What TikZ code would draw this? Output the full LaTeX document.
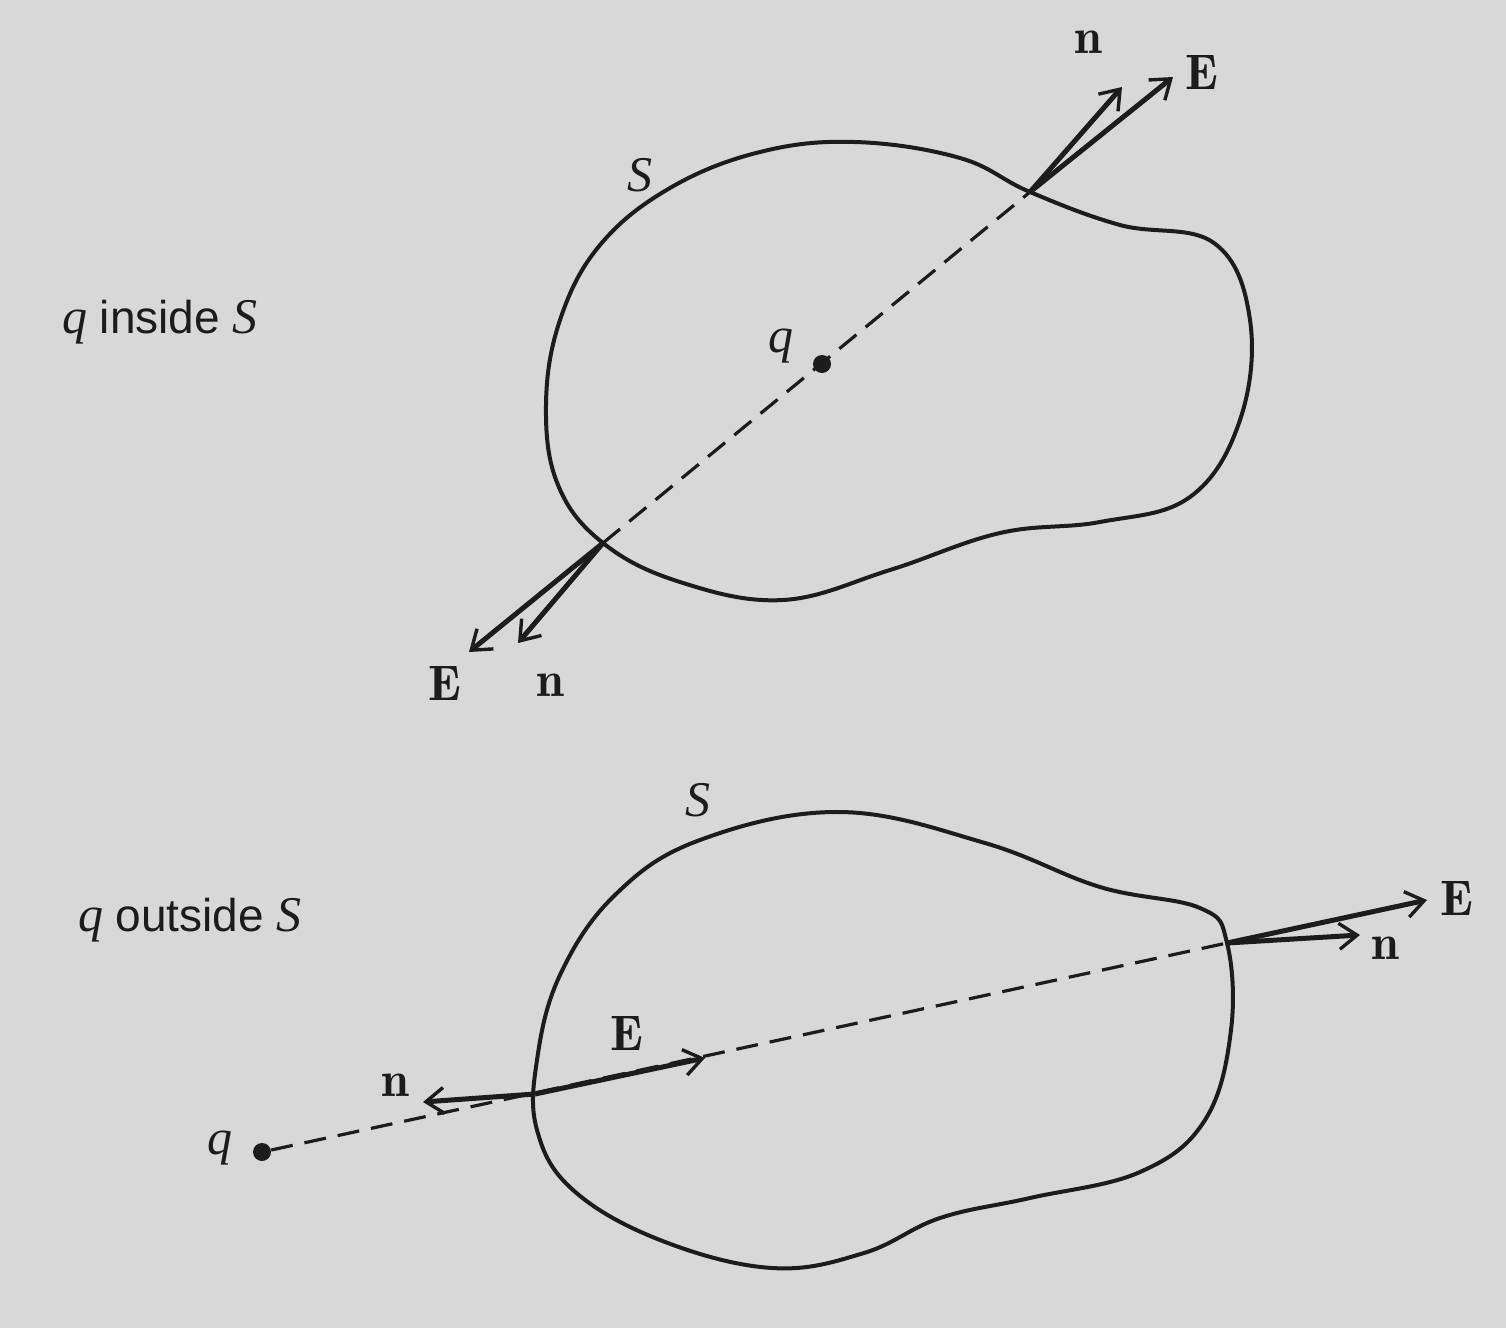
\documentclass[tikz,border=0pt]{standalone}
\usepackage{fontspec}
\setsansfont{Liberation Sans}
\newfontfamily\symit{Liberation Serif}
\usetikzlibrary{arrows.meta}
\definecolor{bg}{RGB}{216,216,216}
\definecolor{ink}{RGB}{28,28,28}
\newcommand{\symq}{{\symit\itshape q}}
\newcommand{\symS}{{\symit\itshape S}}
\tikzset{
  surf/.style={draw=ink, line width=2pt, line join=round},
  ray/.style={draw=ink, line width=1.6pt, dash pattern=on 11pt off 6pt},
  vec/.style={draw=ink, line width=2.5pt, -{Straight Barb[length=9pt,width=13pt,line width=1.7pt]}},
  lab/.style={inner sep=0pt, text=ink, font=\fontsize{25}{29}\selectfont},
  title/.style={inner sep=0pt, text=ink, font=\sffamily\fontsize{23}{27}\selectfont},
  charge/.style={circle, fill=ink, inner sep=0pt, minimum size=9pt}
}
\begin{document}
\begin{tikzpicture}[x=0.5pt,y=-0.5pt]
\fill[bg] (0,0) rectangle (1506,1328);
\useasboundingbox (0,0) rectangle (1506,1328);

% ---------- top: q inside S ----------
\coordinate (A1) at (1030,192);
\coordinate (A2) at (603,543);
\coordinate (A1n) at (1122,87);
\coordinate (A1E) at (1173,77);
\coordinate (A2E) at (469,652);
\coordinate (A2n) at (518,643);

\draw[surf] plot[smooth cycle, tension=0.65] coordinates {
 (1030,192) (1120,225) (1214,243) (1250,320) (1240,420) (1190,497)
 (1100,522) (1000,533) (890,570) (783,600) (680,582) (603,543)
 (558,485) (546,405) (560,320) (600,245) (670,188) (760,152) (855,142) (960,158)};

\draw[ray] (A2) -- (A1);
\node[charge] (q1) at (822,364) {};

\draw[vec] (A1) -- (A1n);
\draw[vec] (A1) -- (A1E);
\draw[vec] (A2) -- (A2E);
\draw[vec] (A2) -- (A2n);

\node[lab] (ln1) at (1088,42) {$\mathbf{n}$};
\node[lab] (lE1) at (1202,72) {$\mathbf{E}$};
\node[lab] (lE2) at (445,683) {$\mathbf{E}$};
\node[lab] (ln2) at (550,685) {$\mathbf{n}$};
\node[lab] (lq1) at (781,346) {\symq};
\node[lab] (lS1) at (640,175) {\symS};
\node[title] (t1) at (160,322) {{\fontsize{25}{29}\selectfont\symq} inside {\fontsize{25}{29}\selectfont\symS}};

% ---------- bottom: q outside S ----------
\coordinate (B1) at (535,1094);
\coordinate (B2) at (1227,943);
\coordinate (B1n) at (423,1102);
\coordinate (B1E) at (705,1058);
\coordinate (B2E) at (1427,900);
\coordinate (B2n) at (1360,935);

\draw[surf] plot[smooth cycle, tension=0.65] coordinates {
 (840,812) (985,843) (1100,887) (1200,908) (1227,943) (1231,1030)
 (1205,1120) (1140,1172) (1030,1198) (940,1218) (864,1253) (772,1268)
 (660,1240) (573,1190) (537,1130) (537,1060) (560,975) (615,895) (700,840)};

\node[charge] (q2) at (262,1152) {};
\draw[ray] (q2) -- (B2);

\draw[vec] (B1) -- (B1n);
\draw[vec] (B1) -- (B1E);
\draw[vec] (B2) -- (B2E);
\draw[vec] (B2) -- (B2n);

\node[lab] (lq2) at (220,1148) {\symq};
\node[lab] (ln3) at (395,1085) {$\mathbf{n}$};
\node[lab] (lE3) at (627,1033) {$\mathbf{E}$};
\node[lab] (lE4) at (1457,898) {$\mathbf{E}$};
\node[lab] (ln4) at (1385,948) {$\mathbf{n}$};
\node[lab] (lS2) at (698,800) {\symS};
\node[title] (t2) at (190,920) {{\fontsize{25}{29}\selectfont\symq} outside {\fontsize{25}{29}\selectfont\symS}};
\end{tikzpicture}
\end{document}
